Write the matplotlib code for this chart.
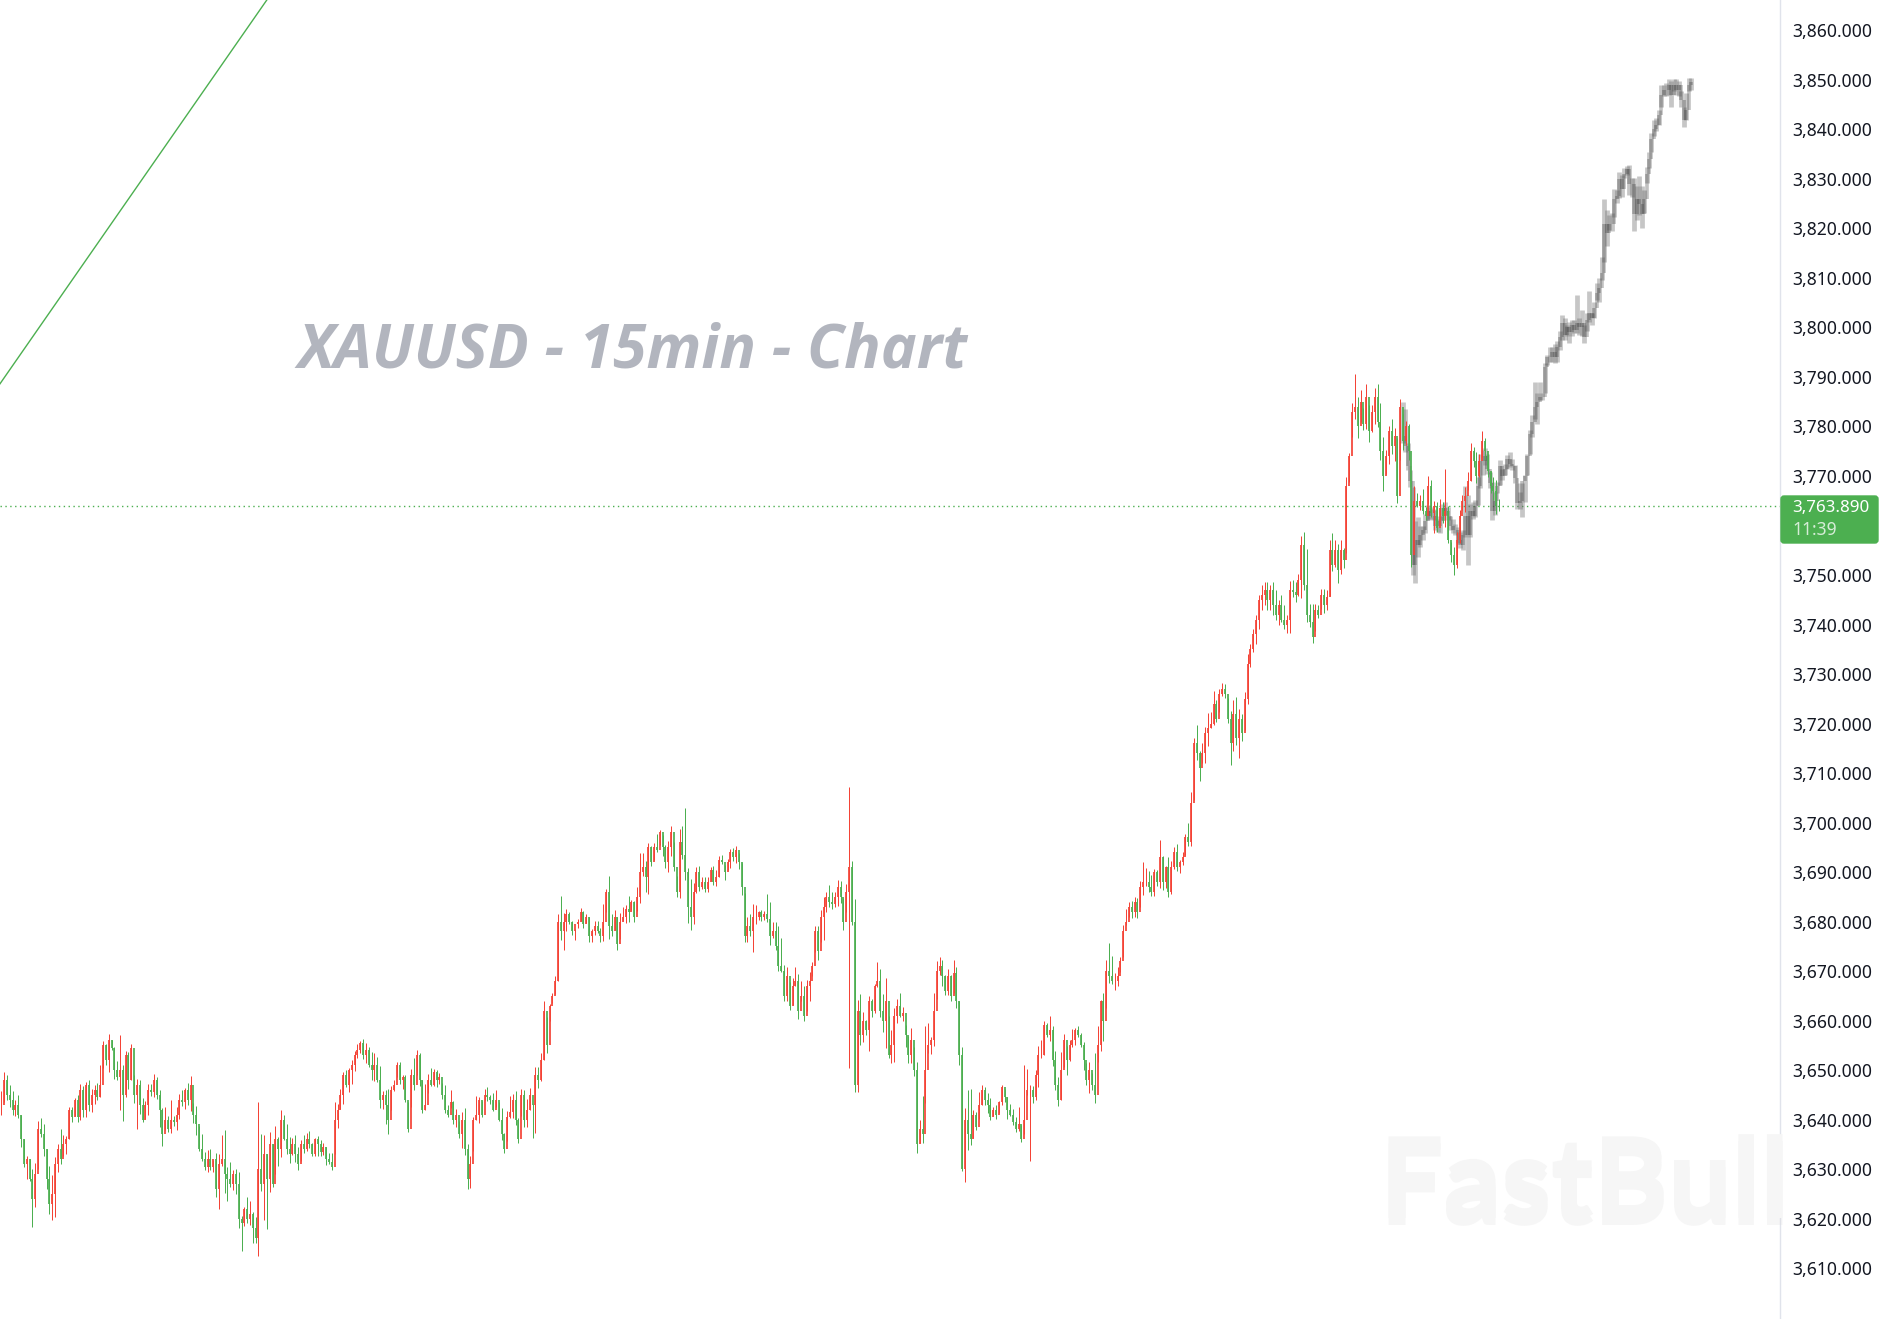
import matplotlib
matplotlib.use("Agg")
import matplotlib.pyplot as plt
import matplotlib.patheffects as pe
from matplotlib.patches import FancyBboxPatch
from matplotlib.ticker import FuncFormatter
import numpy as np

# XAUUSD 15min bars
CANDLE_HIGH = [
    3645.7,3649.5,3649,3647,3645.7,3644,3645,3641,3636,3632.7,
    3632,3630,3631.3,3639.6,3640.3,3639,3634,3630.6,3628.7,3632.4,
    3635,3638,3636.8,3636.6,3642.6,3642.5,3644.4,3645,3647.2,3646.7,
    3647.5,3648,3646.2,3647,3647.3,3651,3655.8,3655.3,3657.2,3656,
    3654.7,3651.8,3657,3651,3653.8,3653.6,3655.2,3649,3648.2,3648,
    3644.4,3643.8,3647.2,3647.2,3649.2,3648.6,3645.9,3642.4,3642.6,3640.8,
    3644,3640.8,3642.6,3645.2,3646,3646.3,3647.3,3648.7,3643.3,3642.8,
    3638.6,3637,3633.4,3633.9,3634.1,3631.9,3633.2,3633,3636.8,3637.8,
    3630.4,3631.5,3629.9,3630,3629.4,3620.6,3622.4,3624.4,3623.6,3621.3,
    3620.3,3643.6,3637,3636.8,3633,3637.4,3635,3638.6,3636.4,3642,
    3641,3639.1,3636.4,3636.3,3636.8,3634.5,3635.9,3636.9,
    3637.3,3637.6,3635.2,3636.3,3636.6,3635.8,3635.3,3634.5,3633.3,
    3633.3,3643.6,3643.2,3646.2,3649.6,3650,3650.4,3652,3653.8,3655.2,
    3655.8,3656.3,3655.4,3654.6,3653.7,3653.5,3652.7,3650.9,3645.7,
    3645.9,3646.1,3646.7,3647.9,3651.6,3651.7,3649,3648.9,3643.6,
    3650.2,3652.4,3654,3653.4,3647.9,3647.1,3649.2,3650.4,
    3650.2,3650,3649.4,3647.4,3646.9,3643,3646,3643.8,3642.2,
    3639.8,3641.6,3642.4,3635,3632.7,3640.6,3644.8,3644.6,3643.8,
    3646.1,3646.5,3645,3645.4,3645.9,3643.6,3642.3,3637.3,3641.8,3644.8,
    3645.2,3645.7,3640.3,3646.1,3645.9,3644.2,3646.3,3643.2,3650.6,3650.7,
    3653.5,3663.9,3660.8,3663.4,3665.5,3669,3681.6,
    3685.2,3681.7,3682.5,3681.9,3680.1,3678.5,3680.5,
    3682.8,3682.2,3681.5,3681,3678.5,3680.1,3680.1,3678.7,3683.6,
    3686.6,3689.2,3681.6,3682.4,3681,3681.7,3683,3683.4,3685.2,3684.4,
    3684.2,3686.9,3693.8,3693.8,3692.3,3695.8,3695.2,3695.8,3697.6,3698.5,
    3697.5,3695.5,3696.3,3699.2,3696,3689.2,3698.7,3699.3,3702.9,3690.8,
    3688.6,3687.7,3691,3691.2,3689,3689,3689,3691,3691.2,3690.4,
    3693.3,3693.5,3691.4,3692.6,3694.7,3694.8,3695.2,3693.8,3691.8,3685.7,
    3681,3681.5,3683.6,3683.4,3682.2,3682.4,3682.2,3685.6,3684,3679.9,
    3679.9,3679,3676.6,3671.2,3670.9,3667.7,3668.5,3670.9,3669.4,3667.9,
    3667,3668.1,3669.7,3671.9,3679.1,3679.1,3682.4,3684.9,3686,3687.3,
    3686,3686,3688.4,3688.1,3684.7,3687.6,3707.1,3692.2,3684.6,3664.2,
    3665.4,3661.8,3660.1,3665,3664.3,3667.4,3671.9,3670.4,3665.4,
    3668.5,3660.9,3658.1,3662.5,3664.4,3665.6,3662.7,3659.1,3656.9,
    3658.4,3654.6,3651.7,3639.9,3644.8,3658.9,3659.4,3656.7,3665.5,3672,
    3672.9,3672.2,3669.2,3670.5,3669.2,3672.2,3670.9,3664,3654.7,3642.3,
    3646,3646.2,3641.9,3641.6,3645.5,3647,3646.6,3645.4,3644.3,3642.6,
    3642.9,3643.8,3647,3646.2,3644.6,3643.1,3642.1,3640.6,3642.5,3638.8,
    3651,3650.2,3647,3646.8,3650,3654.9,3656.1,3659.8,3659.4,3660.9,
    3658.8,3653.9,3648.5,3653.7,3657.3,3654.9,3656.1,3658.2,3658.4,3658.9,
    3657.4,3655.7,3651.4,3651.6,3649.3,3653.4,3658.8,3664.2,3665.5,3672.2,
    3675.6,3673.1,3669.5,3670.9,3672.9,3679.3,3682.5,3684,3684.2,3685,
    3684.7,3688.1,3692,3690.8,3690.2,3689.4,3690.6,3690.4,3696.5,3693.3,
    3691.2,3693,3692.2,3695.1,3695.7,3692.5,3694,3697.7,3699.9,3706.1,
    3717,3719.7,3714.5,3716,3719.3,3722.1,3722.4,3726.5,3724.8,3726.9,
    3728.1,3728,3725.1,3722.6,3724.8,3725.3,3723,3722,3726.3,
    3734.1,3736.1,3739,3742,3746,3748,3748.5,3748.5,3748,3748.5,3747,3745,3746,3744,
    3741.9,3748.8,3749,3748.6,3750.3,3757.8,3758.7,3755.2,3744.2,3744.2,
    3744.2,3744,3747.1,3747.1,3746.9,3757,3758.4,3757,3756.2,3757,
    3755.5,3769.8,3774.7,3784.8,3790.7,3786,3787.3,3783.8,3788.6,3784.3,
    3784.3,3787.7,3788.6,3784.8,3777.8,3775.2,3780,3781.6,3779.7,
    3777.6,3785.5,3782.6,3781.1,3780.6,3765.1,3767.9,3766.5,3766.1,
    3767.3,3763.8,3770,3769.2,3765,3764.8,3765.3,3764.8,3771.4,3764,3756.7,
    3755.6,3758.7,3763.1,3766.1,3767.8,3770.8,3776.6,3775.8,3774.9,3774.5,
    3779,3777.6,3774.5,3770.8,3769.8,3769.2,3765.3,
]
CANDLE_LOW = [
    3641,3643.5,3644,3642.5,3641,3640.8,3640.3,3634.5,3630.5,3628,
    3627.5,3618.2,3622.3,3630,3636.4,3632.7,3626,3621,3619.6,3620.3,
    3629.4,3631,3632.6,3633,3636,3639.5,3640.8,3639.5,3640,3640.5,
    3640.5,3641.7,3641.5,3643.2,3644,3644.6,3650.4,3651,3649.6,3654,
    3648.2,3648,3642,3639.6,3644.6,3646.2,3648,3643.3,3638,3641.1,
    3639.5,3640.1,3641,3644.8,3644.6,3644.2,3638.4,3634.7,3637.8,3637.4,
    3637.2,3638.6,3637.8,3640.1,3642.8,3642.2,3643,3641.8,3639.3,3636.8,
    3633.6,3631.6,3629.7,3629.4,3629.7,3629.4,3624.4,3622,3630.7,3625.1,
    3623.6,3626.3,3625.7,3625,3618.1,3613.5,3618.4,3619,3618.6,3615,
    3615,3612.4,3625.5,3619.6,3617.8,3625.3,3626.3,3628.9,3630.6,3632.4,
    3635.8,3633,3631.2,3632.9,3631.5,3629.9,3631.7,3633.2,
    3633.7,3634.3,3632.6,3632.6,3632.6,3632.6,3632.9,3630.9,3631,
    3629.9,3633,3638.2,3642.2,3643.2,3646.5,3645.5,3647.2,3649.9,3652.4,
    3653.4,3652.3,3651.4,3650.7,3647.9,3647.7,3647.5,3642.4,3642.2,
    3639.1,3637,3642,3645.7,3648.6,3647.2,3646.2,3643.6,3637.4,
    3642.6,3646,3648.9,3646.7,3641.3,3642,3645.3,3646.7,
    3646.7,3646.5,3647.1,3644.2,3641.3,3640.5,3642.3,3639,3638.4,
    3636.3,3634.2,3632.9,3626,3626.1,3633.7,3640,3639.3,3640.5,
    3644,3643.8,3643.2,3641.7,3642.6,3639.7,3635.8,3633.3,3635.6,3640.3,
    3640.3,3638.8,3635.3,3640.7,3638.4,3638.4,3642,3636.2,3637.3,3646.3,
    3647.8,3652.1,3653.5,3660,3663.6,3665.3,3668,
    3676.3,3674.3,3678.1,3679.5,3677.2,3676.3,3678.7,
    3680.1,3678.7,3679.7,3675.8,3675.8,3677.2,3677.6,3675.8,3676,
    3681.9,3676.5,3677,3678.3,3674.3,3676.5,3680.2,3679.7,3679.8,3682.4,
    3679.8,3682.2,3683.8,3689.2,3685.9,3685.6,3691.2,3692.5,3694.1,3695.5,
    3693.3,3690.8,3690.1,3693.3,3690.2,3685,3684.8,3692.7,3688.4,3679.7,
    3678.3,3679.5,3685.7,3686.2,3686.6,3685.9,3686,3688.1,3687.3,3687.2,
    3688.9,3691.6,3688.4,3690.4,3690.8,3692.3,3691.9,3690.6,3685.4,3675.8,
    3675.8,3677,3673.9,3679.5,3680.3,3680.2,3680.3,3680,3675.3,3676.6,
    3674.3,3670,3669.7,3664,3664,3662.2,3663.2,3666.9,3660.3,3664,
    3659.8,3662,3664,3668.9,3673.9,3672.3,3675.8,3676.3,3682,3683,
    3682.5,3683,3683.2,3683.7,3678.3,3682,3650.4,3679.2,3645.6,3645.6,
    3655,3655.7,3657.1,3653.9,3660.7,3661.6,3666.7,3660.8,3657.6,
    3654.5,3652.4,3651.4,3651.7,3659.4,3660.7,3660,3654.7,3651.5,
    3651.4,3648.8,3633.3,3635.2,3635.2,3643.3,3653.4,3653.2,3654.9,3664.3,
    3669.2,3667,3665.2,3665.2,3664,3665.6,3662.5,3651,3629.5,3627.3,
    3633.9,3634.9,3636.2,3637.9,3640.2,3642.9,3642.9,3641.3,3639.9,3640.7,
    3640.1,3641.3,3642.9,3643.6,3640.1,3640.8,3638.9,3637.4,3637.6,3635.5,
    3637.1,3645,3631.7,3643.3,3644,3646.5,3652.4,3653,3656.6,3655.9,
    3650.8,3646,3642.8,3644,3650.7,3649,3651.9,3654.7,3655,3656.7,
    3654.7,3650,3647,3645.3,3646,3643.3,3651.7,3653.9,3655.9,3662.5,
    3667.5,3667.4,3666.2,3667,3669.9,3672.8,3679.2,3680.9,3680.7,3681,
    3680.7,3683,3685.4,3687.1,3685.9,3685.2,3685.2,3687.1,3686.7,3686.3,
    3686.7,3685,3685.6,3690.6,3690.3,3689.8,3691.4,3693.5,3695.2,3695.2,
    3704.6,3712.7,3708.3,3712.1,3712.1,3715.5,3719,3719.7,3720.4,3722.4,
    3725.6,3725.1,3720.2,3711.6,3714.5,3715.7,3713,3716.4,3718.6,
    3724,3731.5,3734.5,3736,3739,3743,3744,3743,3743,3742,3741,3740,3740.5,3739,
    3738.2,3738.2,3745.5,3744.6,3745.8,3745.3,3746.9,3740.5,3739.5,3736.3,
    3738.7,3741.4,3743.2,3742.4,3743,3745.7,3750.8,3751.6,3748.4,3750.3,
    3751.5,3754.5,3768.7,3777.9,3781.6,3777.6,3780.9,3779.3,3779.5,3776.9,
    3778.9,3780.5,3779.9,3773.3,3767,3770.5,3772.4,3774.5,3773,
    3764.6,3773.2,3775.2,3776.2,3773.2,3751.6,3757.4,3763.8,3763.1,
    3762.4,3761.1,3764.4,3761.8,3758.5,3758.7,3761.2,3760.5,3759.7,3756.5,3752.7,
    3750,3751.5,3756.4,3763.1,3762.8,3767.1,3769,3771.8,3768.6,3769.8,
    3773.9,3773.2,3769.8,3766.5,3765.1,3762.4,3763,
]
CANDLE_CLOSE = [
    3643,3648,3645,3644,3642,3643,3641,3636,3631,3632,
    3628,3624,3629,3638,3637,3634,3628,3623,3625,3631,
    3634,3632,3635,3636,3642,3640.5,3644,3640.5,3646,3642,
    3647,3643,3645,3646,3644.5,3647,3655,3652,3656,3654.5,
    3650,3648.5,3650,3645,3653,3648,3654.5,3645,3647,3643,
    3640,3643,3646,3645.5,3648,3645,3642,3637,3640,3638,
    3640,3639.5,3641,3644,3643.5,3646,3644,3647,3641,3639,
    3634,3632,3630.5,3632,3630.5,3632,3626,3631,3632,3629,
    3628,3627,3629,3627,3620,3619,3622,3620,3621,3618,
    3616,3630,3627,3633,3628,3635,3627,3636,3634,3640,
    3636,3634,3633,3635,3633,3631,3635,3634,
    3636,3635,3633,3636,3635,3633.5,3634.5,3632,3631.5,
    3630.5,3640,3642,3645,3649,3647,3650,3651,3653,3654,
    3655.5,3653,3654,3651,3650,3651,3648,3644,3645,
    3643,3640,3646,3647,3651,3648,3648.5,3644,3638,
    3649,3647,3653,3648,3642,3643,3648,3647,
    3649.5,3648,3648.5,3645,3642,3641,3643.5,3640,3641,
    3637,3640,3634,3628,3631,3640,3641,3644,3641,
    3645,3644.5,3644,3642,3644,3640,3637,3634,3640.5,3641.5,
    3644,3640,3636,3645,3640,3642,3645,3643,3649,3648,
    3652,3662,3655,3663,3665,3668,3680,
    3678,3680,3681.5,3680,3678,3679.5,3680,
    3682,3679.5,3681,3677,3678,3679,3678,3677,3680,
    3686,3679,3678,3681,3675.5,3680,3681,3682.5,3682,3684,
    3681,3685,3690,3691,3689,3695,3692,3695,3694.5,3698,
    3695,3692,3695,3698,3691,3686,3696,3693.5,3690,3683,
    3681,3686,3690,3687,3688,3686.5,3688,3690.5,3688,3689,
    3692.5,3692,3690,3692,3694,3693,3694.5,3692,3687,3677,
    3679,3678,3681,3681,3682,3681,3681.5,3680.5,3677,3678,
    3675,3671,3670,3665,3669,3663,3667,3668,3662,3665,
    3661,3667,3668,3671,3678,3674,3681,3683,3685,3684,
    3683.5,3685,3687,3685,3680,3686,3691,3680,3647,3662,
    3657,3660,3658,3664,3662,3667,3668,3662,3660,
    3664,3653,3655,3661,3663,3661,3661.5,3657,3653,
    3656,3650,3635,3638,3637,3650,3655,3656,3662,3670,
    3671,3669,3666,3669,3665,3669.5,3664,3653,3630,3640,
    3637,3636,3641,3638.5,3643,3646,3644,3643,3640.5,3642,
    3641,3643.5,3646.5,3644.5,3642,3641,3639.5,3638,3639,3636,
    3640,3646,3646,3644.5,3649,3653,3653,3659,3657,3658,
    3652,3647,3644,3650,3656,3652,3655,3656,3658,3657,
    3655,3652,3648,3650,3647,3645,3655,3664,3660,3670,
    3669,3668,3668,3669,3672,3678,3680,3683,3682,3684,
    3682,3687,3688,3688,3687,3686,3690,3688,3693,3688,
    3691,3686,3691,3694,3691,3692,3693,3697,3696,3704,
    3716,3714,3711,3714,3718,3719,3720,3724,3721,3726,
    3727,3726,3721,3716,3722,3717,3721,3718,3725,
    3732,3735,3738,3741,3745,3746,3747,3745,3747,3744,3742,3744,3741,3740,
    3741,3747,3746.5,3746,3749,3756,3748,3742,3740.5,3737.5,
    3743,3742,3746,3744,3745.5,3755,3752,3755,3751,3755,
    3753,3768,3774,3783,3784,3780,3785,3780.5,3786,3779,
    3783,3786,3781,3775,3770,3774,3779,3776,3778,
    3766,3784,3777,3780,3775,3754,3765,3764,3765,
    3763,3762,3768,3762.5,3764,3759.5,3763.5,3762,3763,3757,3754,
    3752,3757,3762,3765,3766,3769,3775,3773,3770,3773,
    3777,3775,3771,3768,3767,3764,3763.9,
]

# the grey projected path drawn over the end of the chart
GHOST_HIGH = [
    3785,3783.6,3776.6,3771.2,3767.8,3761,3761.8,3760,3760,3762.4,
    3764.1,3763.8,3763.4,3763.1,3761.4,3762,3764.4,3764.8,3763.8,3762,
    3761.4,3760.4,3759.7,3758.7,3759,3768,3766.1,3764.4,3764.8,3765.1,
    3769.8,3774.5,3775.2,3775.6,3774.5,3770.8,3768.8,3766.8,3768.8,3773.2,
    3771.5,3772.5,3774.2,3774.9,3773.5,3772.2,3768.5,3766.8,3768.5,3770.2,
    3774.5,3779.3,3782.3,3789,3786.7,
    3789,3786.7,3792.8,3794.5,3796.1,3796.1,3796.7,3797.2,3799.2,3802.5,
    3801.9,3800.5,3801.2,3801.5,3801.5,3806.6,3801.9,3803.6,3800.5,3802.9,
    3807.3,3802.9,3805.2,3808.9,3810,3814.3,3825.9,3823.8,3822.8,3823.1,
    3827.9,3827.8,3831.5,3830.8,3832.2,3832.6,3832.8,3830.2,3830.2,3828.5,
    3830.6,3828.5,3827.8,3832.5,3835.5,3839.2,3841.9,3842.3,3844,3849,
    3849,3849.3,3850.2,3849.7,3850.2,3850.2,3849.7,3847.7,3844.6,3847.3,
    3850.4,3850.4,
]
GHOST_LOW = [
    3776.6,3774.9,3771.2,3767.8,3750,3748.3,3753.7,3755.7,3757,3758.4,
    3761.1,3761.4,3761.1,3759,3758.7,3758.4,3761.1,3762.1,3761.1,3759,
    3758.4,3758,3756.4,3755.4,3755,3757.7,3752,3757.7,3761.4,3761.8,
    3764.1,3767.5,3770.2,3772.2,3770.5,3767.5,3761.1,3762.1,3766.5,3768.1,
    3769.2,3770.2,3771.5,3771.9,3771.2,3768.5,3763.4,3763.4,3761.7,3764.8,
    3770.2,3774.5,3777.9,3781.6,3780.6,
    3785.4,3785.4,3786.7,3792.4,3793.1,3793.1,3792.8,3793.1,3795.5,3797.5,
    3797.5,3798.2,3796.8,3798.2,3798.8,3798.8,3798.5,3798.2,3796.8,3799.2,
    3801.2,3800.5,3801.9,3805.6,3805.2,3809.6,3813.3,3816.4,3819.7,3819.4,
    3822.4,3825.1,3826.1,3826.4,3830.2,3830.8,3826.8,3826.4,3819.4,3821.7,
    3822.7,3820,3823.1,3829.1,3832.2,3835.5,3838.6,3839.6,3840.9,3844.6,
    3846.7,3846.7,3847,3844.6,3847.7,3847,3846.7,3844.6,3840.6,3842,
    3847.7,3848,
]
GHOST_CLOSE = [
    3778,3776,3772,3769,3752,3757,3756,3758,3759,3761,
    3763,3762,3762,3760,3760,3761,3763.5,3763,3762,3760,
    3759,3759,3757,3756,3758,3762,3758,3763,3762,3764,
    3768,3773,3773,3774,3771.5,3768.5,3763,3765,3768,3772,
    3770,3771.5,3773.5,3772.5,3772,3769.5,3764.5,3765,3769,3770,
    3774,3778.5,3781,3784,3785,
    3786,3786,3792,3794,3794,3795,3794,3796,3798,3801,
    3798.5,3800,3799,3800.5,3799.5,3801,3800,3801,3798,3801.5,
    3803,3802,3804,3807,3808,3811,3821,3819,3821,3821,
    3826,3826.5,3830,3828,3831,3832,3829,3829,3823,3826,
    3825,3823,3826,3831,3834,3838,3840,3841,3843,3847,
    3848,3848,3849,3847,3849,3848,3849,3846,3842,3844,
    3849,3849.5,
]
GHOST_START_BAR = 496
GHOST_END_BAR = 598

TREND_BAR = [-0.5, 94]
TREND_PRICE = [3788.6, 3866.2]

# 3,760 sits behind the price tag, the scale leaves it out
PRICE_TICKS = [p for p in range(3610, 3861, 10) if p != 3760]
LAST_PRICE = 3763.89
COUNTDOWN = "11:39"
TITLE = "XAUUSD - 15min - Chart"

UP = "#f44336"
DOWN = "#4caf50"
W, H = 1883, 1319
AXIS_PX = 1780


def draw_candles(ax, x, high, low, close):
    close = np.array(close)
    open_ = np.r_[close[0], close[:-1]]
    up = close >= open_
    colors = np.where(up, UP, DOWN)
    ax.vlines(x, low, high, colors=colors, linewidth=0.72, antialiased=True, zorder=3)
    ax.vlines(x, np.minimum(open_, close), np.maximum(open_, close), colors=colors,
              linewidth=1.25, antialiased=True, zorder=3)


def draw_ghost(ax, x, high, low, close):
    close = np.array(close)
    open_ = np.r_[close[0], close[:-1]]
    ax.vlines(x, low, high, colors="#6a6a6a", linewidth=3.4, alpha=0.38, zorder=2)
    ax.vlines(x, np.minimum(open_, close), np.maximum(open_, close), colors="#333333",
              linewidth=2.6, alpha=0.3, zorder=2)


fig = plt.figure(figsize=(W / 100, H / 100), dpi=100, facecolor="white")
ax = fig.add_axes([0, 0, AXIS_PX / W, 1])

bars = np.arange(len(CANDLE_CLOSE))
px_per_bar = 2.826
ax.set_xlim(-1.3 / px_per_bar, (AXIS_PX - 1.3) / px_per_bar)
ax.set_ylim(3599.7, 3866.16)

ghost_x = np.linspace(GHOST_START_BAR, GHOST_END_BAR, len(GHOST_CLOSE))
draw_ghost(ax, ghost_x, GHOST_HIGH, GHOST_LOW, GHOST_CLOSE)
draw_candles(ax, bars, CANDLE_HIGH, CANDLE_LOW, CANDLE_CLOSE)

ax.plot(TREND_BAR, TREND_PRICE, color="#4caf50", linewidth=1.0, zorder=2)
ax.axhline(LAST_PRICE, color="#4caf50", linewidth=1.0, linestyle=(0, (1, 2.5)), zorder=1)

ax.set_xticks([])
ax.yaxis.tick_right()
ax.set_yticks(PRICE_TICKS)
ax.yaxis.set_major_formatter(FuncFormatter(lambda v, _: f"{v:,.3f}"))
ax.tick_params(axis="y", length=0, pad=8.5, labelsize=12.6, labelcolor="#131722")
for label in ax.get_yticklabels():
    label.set_fontfamily("Noto Sans")
for side in ["top", "left", "bottom"]:
    ax.spines[side].set_visible(False)
ax.spines["right"].set_color("#e0e3eb")
ax.spines["right"].set_linewidth(1.0)

# big title on the chart
ax.text(297, H - 352, TITLE, transform=None, family="Open Sans", style="italic", weight="bold",
        fontsize=43.7, color="#b2b5be", ha="left", va="center", zorder=1)

# watermark, goes slightly over the price scale
fig.text(1380 / W, (H - 1218) / H, "FastBull", family="Lato", weight="black",
         fontsize=81, color="#f6f6f6", ha="left", va="baseline", zorder=0,
         path_effects=[pe.withSimplePatchShadow(offset=(0, -5), shadow_rgbFace="#dddddd", alpha=0.25)])

# last price tag
tag = FancyBboxPatch((1781, H - 543), 97, 47, boxstyle="round,pad=0,rounding_size=3",
                     transform=None, facecolor="#4caf50", edgecolor="#4caf50", linewidth=1, zorder=5)
fig.add_artist(tag)
fig.text(1792 / W, (H - 508) / H, f"{LAST_PRICE:,.3f}", family="Noto Sans", weight="bold",
         fontsize=12.2, color="white", ha="left", va="center", zorder=6)
fig.text(1792 / W, (H - 530) / H, COUNTDOWN, family="Noto Sans",
         fontsize=12.6, color="#d5ecd6", ha="left", va="center", zorder=6)

fig.savefig("out.png", dpi=100, facecolor="white")
